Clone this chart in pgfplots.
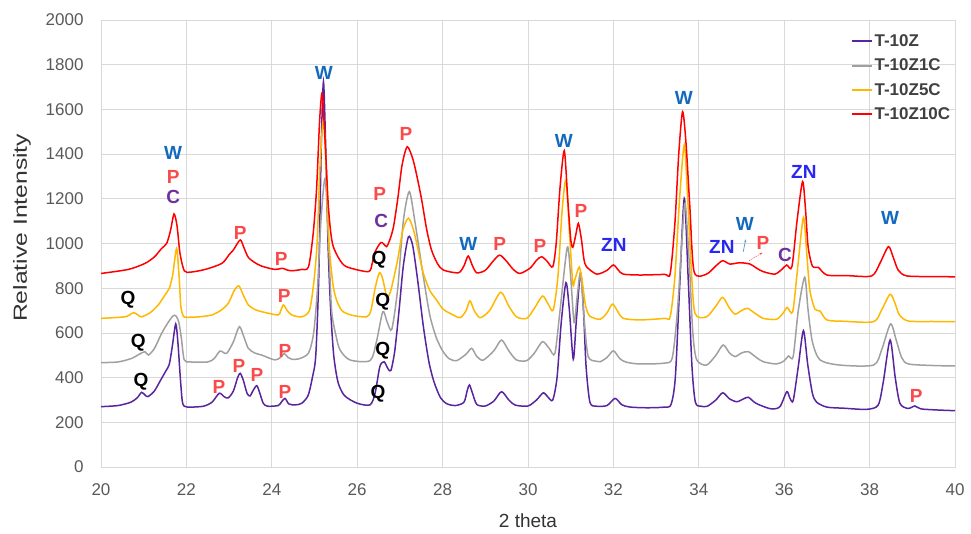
\documentclass[border=0pt]{standalone}
\usepackage{pgfplots}
\pgfplotsset{compat=1.18}
\usepackage{fontspec}
\setmainfont{Liberation Sans}
\usetikzlibrary{arrows.meta}
\definecolor{cpurple}{RGB}{88,36,160}
\definecolor{cgray}{RGB}{160,160,160}
\definecolor{corange}{RGB}{255,184,0}
\definecolor{cred}{RGB}{255,0,0}
\definecolor{lblW}{RGB}{18,105,190}
\definecolor{lblZN}{RGB}{40,40,240}
\definecolor{lblP}{RGB}{250,75,75}
\definecolor{lblC}{RGB}{112,48,160}
\definecolor{gridc}{RGB}{217,217,217}
\definecolor{tickc}{RGB}{89,89,89}
\definecolor{legc}{RGB}{64,64,64}
\begin{document}
\begin{tikzpicture}
\begin{axis}[
  scale only axis, width=854pt, height=447pt,
  xmin=20, xmax=40, ymin=0, ymax=2000,
  xtick={20,22,...,40}, ytick={0,200,...,2000},
  grid=major, major grid style={gridc, line width=0.8pt},
  axis line style={gridc, line width=0.8pt},
  major tick length=0pt,
  /pgf/number format/assume math mode=true,
  /pgf/number format/1000 sep={},
  tick label style={font=\fontsize{17}{17}\selectfont, text=tickc},
  xticklabel style={yshift=-13pt},
  yticklabel style={xshift=-14pt},
  xlabel={2 theta}, ylabel={\scalebox{1.3}[1]{Relative Intensity}},
  label style={font=\fontsize{19}{19}\selectfont, text=black!80},
  x label style={at={(axis description cs:0.5,0)}, anchor=center, yshift=-54pt},
  y label style={at={(axis description cs:0,0.535)}, anchor=center, yshift=79pt},
  legend style={draw=none, fill=none, at={(axis description cs:0.874,0.977)}, anchor=north west,
    font=\fontsize{17}{17}\selectfont\bfseries\color{legc}, row sep=7pt},
  legend cell align=left,
  legend image code/.code={\draw[mark repeat=2,mark phase=2,#1] plot coordinates {(0pt,0pt) (10pt,0pt) (20pt,0pt)};},
  legend image post style={line width=2pt},
  every axis plot/.append style={line width=1.5pt, smooth, tension=0.45},
]
\addplot[cpurple] coordinates {
(20.0,270) (20.4,275) (20.7,290) (20.85,310) (20.95,334) (21.03,322) (21.1,315) (21.25,340)
(21.4,390) (21.52,430) (21.6,460) (21.67,540) (21.75,640) (21.8,560) (21.85,420) (21.9,300)
(21.95,272) (22.1,268) (22.4,272) (22.6,290) (22.77,330) (22.88,315) (22.98,309) (23.1,340)
(23.2,400) (23.26,419) (23.33,390) (23.42,330) (23.49,318) (23.57,345) (23.65,364) (23.72,330)
(23.8,285) (23.9,272) (24.15,275) (24.23,292) (24.31,307) (24.4,282) (24.55,278) (24.7,285)
(24.85,320) (24.95,400) (25.03,500) (25.1,850) (25.16,1450) (25.21,1724) (25.26,1450) (25.32,980)
(25.38,700) (25.45,500) (25.55,380) (25.7,320) (25.99,286) (26.3,278) (26.42,331) (26.53,449)
(26.63,471) (26.72,440) (26.79,432) (26.88,520) (26.98,700) (27.08,900) (27.2,1030) (27.3,990)
(27.42,830) (27.55,628) (27.68,470) (27.8,380) (27.95,310) (28.1,283) (28.3,275) (28.5,290)
(28.58,345) (28.63,367) (28.7,330) (28.8,280) (29.0,273) (29.2,295) (29.38,337) (29.55,300)
(29.7,277) (30.0,273) (30.2,300) (30.36,332) (30.48,310) (30.58,300) (30.68,400) (30.78,650)
(30.89,825) (30.97,700) (31.06,482) (31.13,650) (31.23,869) (31.3,700) (31.36,450) (31.45,290)
(31.6,272) (31.85,275) (32.04,307) (32.2,278) (32.4,268) (32.8,265) (33.2,268) (33.35,280)
(33.45,400) (33.55,800) (33.66,1202) (33.75,850) (33.84,450) (33.92,290) (34.05,272) (34.2,272)
(34.4,300) (34.56,332) (34.72,305) (34.89,292) (35.05,305) (35.16,312) (35.3,290) (35.43,277)
(35.7,260) (35.9,270) (36.06,337) (36.13,310) (36.21,297) (36.33,450) (36.45,610) (36.55,460)
(36.66,330) (36.76,290) (37.0,268) (37.4,263) (37.93,258) (38.2,277) (38.32,380) (38.48,568)
(38.6,400) (38.71,285) (38.9,262) (39.06,273) (39.2,260) (39.6,255) (40.0,252)
};
\addlegendentry{T-10Z}
\addplot[cgray] coordinates {
(20.0,467) (20.4,470) (20.72,486) (20.9,505) (21.03,516) (21.11,501) (21.25,530) (21.42,598)
(21.55,640) (21.68,675) (21.75,677) (21.82,650) (21.88,580) (21.95,479) (22.1,470) (22.5,470)
(22.65,485) (22.79,519) (22.94,508) (23.1,560) (23.24,628) (23.35,580) (23.45,531) (23.6,510)
(23.76,501) (24.07,479) (24.2,490) (24.29,508) (24.38,490) (24.47,482) (24.65,485) (24.86,510)
(24.98,600) (25.07,800) (25.15,1100) (25.25,1292) (25.33,1000) (25.4,702) (25.5,590) (25.6,523)
(25.83,479) (26.3,476) (26.45,560) (26.6,695) (26.7,650) (26.81,616) (26.95,800) (27.08,1100)
(27.22,1232) (27.35,1100) (27.55,851) (27.7,680) (27.85,580) (28.0,520) (28.15,485) (28.33,476)
(28.55,505) (28.68,531) (28.8,495) (28.95,478) (29.2,520) (29.38,568) (29.55,520) (29.73,479)
(29.97,476) (30.15,510) (30.34,561) (30.5,530) (30.63,508) (30.75,700) (30.92,983) (31.0,850)
(31.08,646) (31.15,760) (31.23,866) (31.32,650) (31.41,494) (31.6,473) (31.69,471) (31.85,490)
(32.0,520) (32.15,485) (32.3,469) (32.62,461) (33.2,465) (33.38,490) (33.5,700) (33.6,1000)
(33.68,1180) (33.78,900) (33.86,600) (33.95,480) (34.18,456) (34.4,500) (34.57,546) (34.72,510)
(34.85,494) (35.0,510) (35.16,516) (35.35,490) (35.51,471) (35.82,461) (36.0,475) (36.1,497)
(36.21,494) (36.33,700) (36.48,849) (36.56,700) (36.66,560) (36.84,479) (37.31,456) (38.09,456)
(38.28,523) (38.49,640) (38.62,570) (38.75,490) (38.91,461) (39.5,454) (40.0,452)
};
\addlegendentry{T-10Z1C}
\addplot[corange] coordinates {
(20.0,665) (20.56,672) (20.7,685) (20.78,690) (20.88,678) (20.95,672) (21.15,690) (21.34,725)
(21.5,770) (21.6,800) (21.68,860) (21.77,978) (21.83,850) (21.87,717) (21.93,675) (22.0,670)
(22.3,672) (22.59,680) (22.8,700) (22.98,732) (23.12,790) (23.23,810) (23.33,770) (23.45,725)
(23.6,705) (23.76,695) (24.14,680) (24.2,695) (24.27,725) (24.36,700) (24.47,680) (24.7,672)
(24.88,700) (24.98,820) (25.06,1000) (25.13,1350) (25.21,1552) (25.28,1300) (25.34,1000) (25.44,807)
(25.55,730) (25.67,695) (25.9,678) (26.22,672) (26.32,700) (26.42,800) (26.52,869) (26.6,840)
(26.69,762) (26.75,770) (26.81,807) (26.95,930) (27.07,1060) (27.2,1113) (27.32,1060) (27.45,950)
(27.55,866) (27.7,790) (27.86,747) (28.0,708) (28.17,688) (28.41,668) (28.55,700) (28.64,744)
(28.74,700) (28.88,668) (29.1,700) (29.36,782) (29.55,720) (29.73,672) (29.97,665) (30.15,710)
(30.34,765) (30.47,730) (30.59,702) (30.7,850) (30.8,1150) (30.89,1284) (30.97,1050) (31.05,820)
(31.1,840) (31.2,895) (31.27,830) (31.35,720) (31.45,675) (31.69,661) (31.85,690) (31.98,729)
(32.12,690) (32.23,665) (32.62,658) (33.2,665) (33.33,672) (33.44,851) (33.55,1200) (33.66,1441)
(33.74,1200) (33.82,900) (33.91,688) (34.18,672) (34.4,720) (34.56,759) (34.72,710) (34.85,684)
(35.0,700) (35.14,710) (35.3,690) (35.51,665) (35.82,661) (35.98,690) (36.07,714) (36.2,695)
(36.32,900) (36.45,1117) (36.53,950) (36.6,792) (36.72,706) (36.84,698) (37.0,658) (37.4,652)
(38.09,650) (38.28,702) (38.48,773) (38.6,730) (38.7,680) (38.91,653) (39.5,651) (40.0,650)
};
\addlegendentry{T-10Z5C}
\addplot[cred] coordinates {
(20.0,866) (20.64,884) (21.03,911) (21.25,940) (21.42,978) (21.54,1001) (21.63,1060) (21.71,1132)
(21.78,1080) (21.85,956) (21.95,878) (22.1,872) (22.44,884) (22.83,911) (23.0,950) (23.1,971)
(23.26,1016) (23.35,980) (23.45,938) (23.6,915) (23.76,899) (24.07,884) (24.25,889) (24.35,882)
(24.47,878) (24.7,884) (24.86,896) (24.97,1046) (25.05,1250) (25.12,1550) (25.18,1672) (25.25,1450)
(25.32,1180) (25.38,1050) (25.44,986) (25.58,930) (25.75,896) (26.26,874) (26.35,910) (26.42,963)
(26.55,1004) (26.62,998) (26.69,986) (26.77,1020) (26.85,1075) (26.95,1200) (27.05,1350) (27.17,1433)
(27.3,1380) (27.4,1300) (27.51,1195) (27.63,1060) (27.74,971) (27.88,910) (28.02,881) (28.37,869)
(28.5,900) (28.6,944) (28.7,900) (28.8,869) (29.0,880) (29.2,925) (29.34,948) (29.5,920)
(29.65,885) (29.81,866) (30.05,890) (30.2,925) (30.32,941) (30.45,920) (30.58,896) (30.66,1000)
(30.75,1250) (30.85,1415) (30.93,1200) (31.0,1020) (31.05,983) (31.12,1040) (31.18,1090) (31.25,1020)
(31.31,930) (31.37,896) (31.61,863) (31.85,880) (32.0,904) (32.12,880) (32.23,863) (32.62,859)
(33.2,862) (33.33,866) (33.44,1090) (33.53,1400) (33.62,1590) (33.7,1450) (33.79,1165) (33.89,874)
(34.18,863) (34.4,900) (34.56,923) (34.73,908) (34.96,914) (35.2,908) (35.35,890) (35.51,874)
(35.78,863) (35.95,885) (36.06,904) (36.18,896) (36.3,1100) (36.43,1277) (36.5,1150) (36.56,986)
(36.66,899) (36.8,893) (37.0,859) (37.5,856) (38.05,855) (38.24,911) (38.44,986) (38.55,940)
(38.67,881) (38.87,855) (39.5,852) (40.0,851)
};
\addlegendentry{T-10Z10C}
% annotations
\tikzset{lbl/.style={font=\fontsize{19}{19}\selectfont\bfseries, inner sep=0pt}}
\node[lbl, text=lblW] at (axis cs:21.69,1405) {W};
\node[lbl, text=lblP] at (axis cs:21.69,1297) {P};
\node[lbl, text=lblC] at (axis cs:21.69,1208) {C};
\node[lbl] at (axis cs:20.63,747) {Q};
\node[lbl] at (axis cs:20.87,555) {Q};
\node[lbl] at (axis cs:20.94,380) {Q};
\node[lbl, text=lblP] at (axis cs:23.26,1047) {P};
\node[lbl, text=lblP] at (axis cs:24.22,930) {P};
\node[lbl, text=lblP] at (axis cs:24.29,765) {P};
\node[lbl, text=lblP] at (axis cs:24.31,519) {P};
\node[lbl, text=lblP] at (axis cs:22.76,358) {P};
\node[lbl, text=lblP] at (axis cs:23.23,452) {P};
\node[lbl, text=lblP] at (axis cs:23.65,412) {P};
\node[lbl, text=lblP] at (axis cs:24.31,336) {P};
\node[lbl, text=lblW] at (axis cs:25.22,1763) {W};
\node[lbl, text=lblP] at (axis cs:26.53,1221) {P};
\node[lbl, text=lblC] at (axis cs:26.56,1100) {C};
\node[lbl] at (axis cs:26.51,926) {Q};
\node[lbl] at (axis cs:26.6,738) {Q};
\node[lbl] at (axis cs:26.6,519) {Q};
\node[lbl] at (axis cs:26.49,327) {Q};
\node[lbl, text=lblP] at (axis cs:27.14,1490) {P};
\node[lbl, text=lblW] at (axis cs:28.6,998) {W};
\node[lbl, text=lblP] at (axis cs:29.34,998) {P};
\node[lbl, text=lblP] at (axis cs:30.28,989) {P};
\node[lbl, text=lblW] at (axis cs:30.84,1459) {W};
\node[lbl, text=lblP] at (axis cs:31.24,1145) {P};
\node[lbl, text=lblZN] at (axis cs:32.01,993) {ZN};
\node[lbl, text=lblW] at (axis cs:33.65,1651) {W};
\node[lbl, text=lblZN] at (axis cs:34.54,984) {ZN};
\node[lbl, text=lblW] at (axis cs:35.08,1087) {W};
\node[lbl, text=lblP] at (axis cs:35.5,1002) {P};
\node[lbl, text=lblC] at (axis cs:36.02,948) {C};
\node[lbl, text=lblZN] at (axis cs:36.46,1320) {ZN};
\node[lbl, text=lblW] at (axis cs:38.48,1114) {W};
\node[lbl, text=lblP] at (axis cs:39.09,318) {P};
\draw[-{Stealth[length=3pt]}, lblW!70, line width=0.7pt] (axis cs:35.04,963) -- (axis cs:35.10,1019);
\draw[-{Stealth[length=3pt]}, lblP, line width=0.5pt, dash pattern=on 1.5pt off 1pt] (axis cs:35.18,923) -- (axis cs:35.49,959);
\end{axis}
\pgfresetboundingbox
\path[use as bounding box] (-101pt,-66pt) rectangle (870pt,467pt);
\end{tikzpicture}
\end{document}
